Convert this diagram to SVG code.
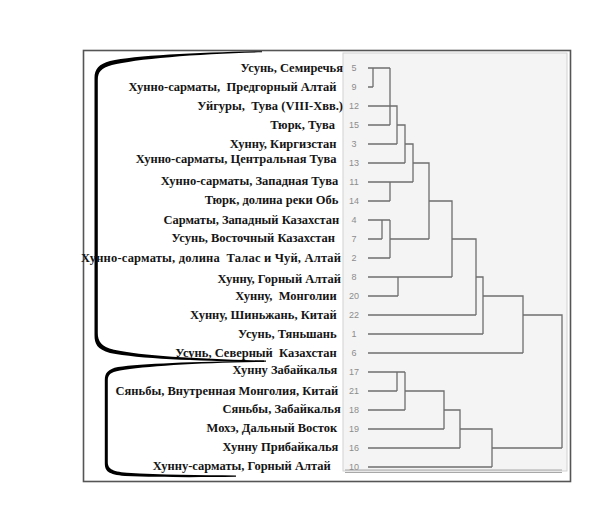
<svg xmlns="http://www.w3.org/2000/svg" width="603" height="521" viewBox="0 0 603 521">
<style>
.lbl{font-family:"Liberation Serif","Times New Roman",serif;font-weight:bold;font-size:12.5px;fill:#151515;text-anchor:end;white-space:pre}
.num{font-family:"Liberation Sans",Arial,sans-serif;font-size:9px;fill:#8c8c8c;text-anchor:middle}
.den{fill:none;stroke:#6e6e6e;stroke-width:1.3}
.br{fill:#000}
</style>
<rect x="0" y="0" width="603" height="521" fill="#fff"/>
<rect id="frame" x="83.5" y="50.5" width="487" height="431" fill="#fff" stroke="#555" stroke-width="1.6"/>
<g id="panel">
<rect x="343" y="53" width="224" height="418" fill="#f4f4f4" stroke="#d2d2d2" stroke-width="1"/>
<path d="M345,470 H562 M345,472.5 H562" stroke="#a8a8a8" stroke-width="1" fill="none"/>
</g>
<g id="brackets">
<path id="bracket-upper" class="br" d="M262,51.2 C200,52.3 135,55.5 110,61 C99,64 94.5,69 94.5,78 L94.5,335 C94.5,344 97,349 110,353 C140,359 200,361 264,362 L264,360.6 C200,359 142,356 114,349.8 C101,346.5 97.8,341 97.8,333 L97.8,80 C97.8,72 101,68 112,65 C135,59 200,53.5 262,52.3 Z"/>
<path id="bracket-lower" class="br" d="M266,360.6 C200,361.5 142,363.5 118,367 C108,369 104.8,373 104.8,380 L104.8,463 C104.8,471 108,474.5 125,476 C160,477.5 200,477.3 236,476.8 L236,475.4 C200,475.3 160,474.8 127,472.8 C111,471.5 107.8,468 107.8,462 L107.8,381 C107.8,375 110,372.3 120,370.6 C145,366 200,362.6 266,361.8 Z"/>
</g>
<g id="labels">
<text class="lbl" x="343" y="72">Усунь, Семиречья</text>
<text class="lbl" x="336.5" y="90.5">Хунно-сарматы,  Предгорный Алтай</text>
<text class="lbl" x="343" y="110">Уйгуры,  Тува (VIII-Хвв.)</text>
<text class="lbl" x="335" y="129">Тюрк, Тува</text>
<text class="lbl" x="336.5" y="148">Хунну, Киргизстан</text>
<text class="lbl" x="336.5" y="162.5">Хунно-сарматы, Центральная Тува</text>
<text class="lbl" x="338.3" y="185">Хунно-сарматы, Западная Тува</text>
<text class="lbl" x="338.3" y="204">Тюрк, долина реки Обь</text>
<text class="lbl" x="339.3" y="224">Сарматы, Западный Казахстан</text>
<text class="lbl" x="335" y="242">Усунь, Восточный Казахстан</text>
<text class="lbl" x="341" y="262" textLength="260" lengthAdjust="spacing">Хунно-сарматы, долина  Талас и Чуй, Алтай</text>
<text class="lbl" x="341" y="282.5">Хунну, Горный Алтай</text>
<text class="lbl" x="336.7" y="300">Хунну,  Монголии</text>
<text class="lbl" x="336.7" y="318.5">Хунну, Шиньжань, Китай</text>
<text class="lbl" x="336.7" y="338">Усунь, Тяньшань</text>
<text class="lbl" x="336.7" y="356.5">Усунь, Северный  Казахстан</text>
<text class="lbl" x="337.3" y="373.5">Хунну Забайкалья</text>
<text class="lbl" x="338.3" y="394.5">Сяньбы, Внутренная Монголия, Китай</text>
<text class="lbl" x="340.7" y="413">Сяньбы, Забайкалья</text>
<text class="lbl" x="337.3" y="432">Мохэ, Дальный Восток</text>
<text class="lbl" x="338.3" y="451">Хунну Прибайкалья</text>
<text class="lbl" x="330.7" y="469.5">Хунну-сарматы, Горный Алтай</text>
</g>
<g id="numbers">
<text class="num" x="354" y="71">5</text>
<text class="num" x="354" y="90">9</text>
<text class="num" x="354" y="109">12</text>
<text class="num" x="354" y="128">15</text>
<text class="num" x="354" y="147">3</text>
<text class="num" x="354" y="166">13</text>
<text class="num" x="354" y="185">11</text>
<text class="num" x="354" y="204">14</text>
<text class="num" x="354" y="223">4</text>
<text class="num" x="354" y="242">7</text>
<text class="num" x="354" y="261">2</text>
<text class="num" x="354" y="280">8</text>
<text class="num" x="354" y="299">20</text>
<text class="num" x="354" y="318">22</text>
<text class="num" x="354" y="337">1</text>
<text class="num" x="354" y="356">6</text>
<text class="num" x="354" y="375">17</text>
<text class="num" x="354" y="394">21</text>
<text class="num" x="354" y="413">18</text>
<text class="num" x="354" y="432">19</text>
<text class="num" x="354" y="451">16</text>
<text class="num" x="354" y="470">10</text>
</g>
<g id="connectors">
<path class="den" d="M368,68 H390 M373,68 V87 M368,87 H373"/>
<path class="den" d="M390,68 V125 M368,125 H390"/>
<path class="den" d="M368,106 H397 V144 M368,144 H397"/>
<path class="den" d="M397,125 H405 V163 M368,163 H405"/>
<path class="den" d="M405,144 H413 V182 M368,182 H413"/>
<path class="den" d="M390,182 V201 M368,201 H390"/>
<path class="den" d="M413,163 H429 V239"/>
<path class="den" d="M368,220 H390 M382,220 V239 M368,239 H382 M390,220 V258 M368,258 H390 M390,239 H429"/>
<path class="den" d="M429,201 H452 V277 M368,277 H452 M398,277 V296 M368,296 H398"/>
<path class="den" d="M452,239 H476 V315 M368,315 H476"/>
<path class="den" d="M476,277 H483 V334 M368,334 H483"/>
<path class="den" d="M483,296 H523 V353 M368,353 H523"/>
<path class="den" d="M523,315 H562 V448"/>
<path class="den" d="M368,372 H405 M397,372 V391 M368,391 H397 M405,372 V410 M368,410 H405"/>
<path class="den" d="M405,391 H444 V429 M368,429 H444"/>
<path class="den" d="M444,410 H460 V448 M368,448 H460"/>
<path class="den" d="M460,429 H492 V467 M368,467 H492"/>
<path class="den" d="M492,448 H562"/>
</g>
</svg>
